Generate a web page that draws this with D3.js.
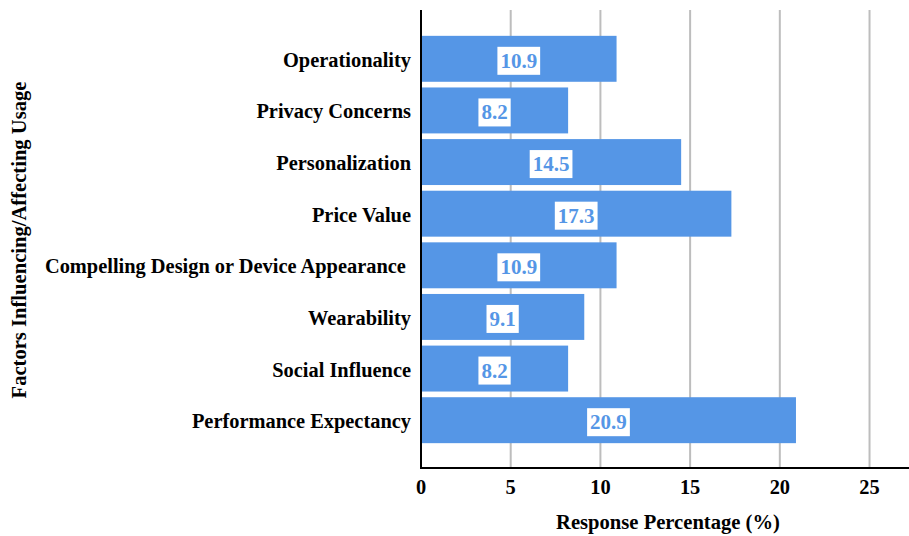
<!DOCTYPE html>
<html>
<head>
<meta charset="utf-8">
<script src="https://cdn.jsdelivr.net/npm/d3@7"></script>
<style>
  body { margin: 0; background: #fff; }
</style>
</head>
<body>
<div id="chart"></div>
<script>
// chart data
const factors = ["Operationality", "Privacy Concerns", "Personalization", "Price Value",
  "Compelling Design or Device Appearance ", "Wearability", "Social Influence", "Performance Expectancy"];
const percentages = [10.9, 8.2, 14.5, 17.3, 10.9, 9.1, 8.2, 20.9];
const xTicks = [0, 5, 10, 15, 20, 25];

const width = 909, height = 536;
const barColor = "#5596e6";
const fontFamily = "'Liberation Serif', 'Times New Roman', serif";

const svg = d3.select("#chart").append("svg")
    .attr("width", width)
    .attr("height", height)
    .attr("font-family", fontFamily)
    .attr("font-weight", "bold");

const xScale = d3.scaleLinear()
    .domain([0, 27.2])
    .range([421, 909]);

const yScale = d3.scaleBand()
    .domain(factors)
    .range([33, 446])
    .paddingInner(0.11)
    .paddingOuter(0.055);

const plotTop = 10, plotBottom = 468;

// vertical gridlines
svg.append("g").selectAll("line.grid")
    .data(xTicks.filter(d => d > 0))
    .enter()
    .append("line")
    .attr("class", "grid")
    .attr("x1", d => xScale(d))
    .attr("x2", d => xScale(d))
    .attr("y1", plotTop)
    .attr("y2", plotBottom)
    .attr("stroke", "#bdbdbd")
    .attr("stroke-width", 2);

// bars
svg.append("g").selectAll("rect")
    .data(factors)
    .enter()
    .append("rect")
    .attr("x", xScale(0))
    .attr("y", d => yScale(d))
    .attr("width", (d, i) => xScale(percentages[i]) - xScale(0))
    .attr("height", yScale.bandwidth())
    .attr("fill", barColor);

// value labels in white boxes
const valueGroups = svg.append("g").selectAll("g.value")
    .data(factors)
    .enter()
    .append("g")
    .attr("class", "value")
    .attr("transform", (d, i) => "translate(" + (xScale(0) + xScale(percentages[i])) / 2 + "," + (yScale(d) + yScale.bandwidth() / 2) + ")");

valueGroups.append("text")
    .text((d, i) => percentages[i].toFixed(1))
    .attr("text-anchor", "middle")
    .attr("y", 9)
    .attr("font-size", 21)
    .attr("fill", barColor)
    .each(function() {
        const bb = this.getBBox();
        d3.select(this.parentNode).insert("rect", "text")
            .attr("x", bb.x - 3)
            .attr("y", -12)
            .attr("width", bb.width + 6)
            .attr("height", 28)
            .attr("fill", "#fff");
    });

// category labels
svg.append("g").selectAll("text.cat")
    .data(factors)
    .enter()
    .append("text")
    .attr("class", "cat")
    .text(d => d)
    .attr("x", 411)
    .attr("y", d => yScale(d) + yScale.bandwidth() / 2 + 8)
    .attr("text-anchor", "end")
    .attr("font-size", 20.4)
    .style("white-space", "pre")
    .attr("fill", "#000");

// axes lines
svg.append("line")
    .attr("x1", xScale(0)).attr("x2", xScale(0))
    .attr("y1", plotTop).attr("y2", plotBottom)
    .attr("stroke", "#000").attr("stroke-width", 2);

svg.append("line")
    .attr("x1", xScale(0) - 1).attr("x2", width)
    .attr("y1", plotBottom).attr("y2", plotBottom)
    .attr("stroke", "#000").attr("stroke-width", 2);

// x tick labels
svg.append("g").selectAll("text.tick")
    .data(xTicks)
    .enter()
    .append("text")
    .attr("class", "tick")
    .text(d => d)
    .attr("x", d => xScale(d))
    .attr("y", 494)
    .attr("text-anchor", "middle")
    .attr("font-size", 20.4)
    .attr("fill", "#000");

// axis titles
svg.append("text")
    .text("Response Percentage (%)")
    .attr("x", 668)
    .attr("y", 529)
    .attr("text-anchor", "middle")
    .attr("font-size", 20.6)
    .attr("fill", "#000");

svg.append("text")
    .text("Factors Influencing/Affecting Usage")
    .attr("transform", "translate(26,240) rotate(-90)")
    .attr("text-anchor", "middle")
    .attr("font-size", 20.6)
    .attr("fill", "#000");
</script>
</body>
</html>
